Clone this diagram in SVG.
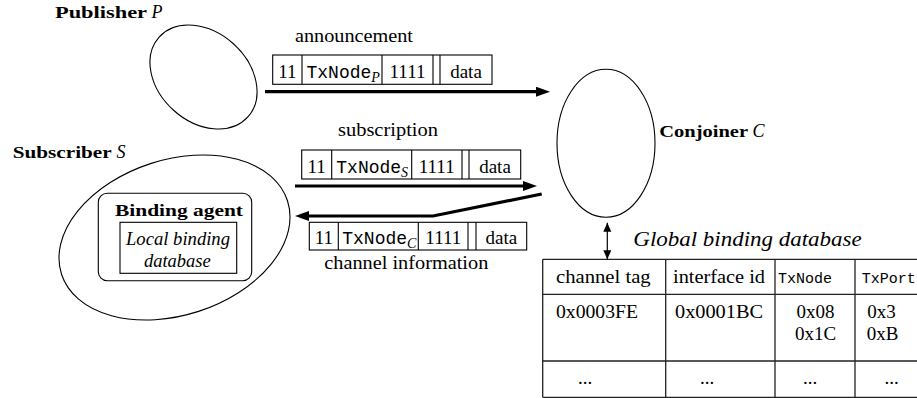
<svg xmlns="http://www.w3.org/2000/svg" width="917" height="398" viewBox="0 0 917 398">
  <style>
    .shape { fill: none; stroke: #000; stroke-width: 1.1; }
    .cell { fill: #fff; stroke: #000; stroke-width: 1.1; }
    .grid { fill: none; stroke: #222; stroke-width: 1.3; }
    .serif { font-family: "Liberation Serif", "DejaVu Serif", serif; font-size: 19px; fill: #000; }
    .bold { font-family: "Liberation Serif", "DejaVu Serif", serif; font-weight: bold; font-size: 16px; fill: #000; }
    .ital { font-family: "Liberation Serif", "DejaVu Serif", serif; font-style: italic; fill: #000; }
    .mono { font-family: "Liberation Mono", "DejaVu Sans Mono", monospace; fill: #000; }
    .mid { text-anchor: middle; }
    .thick { fill: none; stroke: #000; stroke-width: 3.2; stroke-linejoin: miter; }
    .thin { fill: none; stroke: #000; stroke-width: 1.2; }
  </style>
  <defs>
    <marker id="head" markerUnits="userSpaceOnUse" markerWidth="16" markerHeight="12" refX="4" refY="5" orient="auto">
      <path d="M0,0 L14,5 L0,10 z" fill="#000"/>
    </marker>
    <marker id="tip" markerUnits="userSpaceOnUse" markerWidth="10" markerHeight="10" refX="9" refY="4" orient="auto-start-reverse">
      <path d="M0,0 L9,4 L0,8 z" fill="#000"/>
    </marker>
  </defs>

  <!-- Publisher P -->
  <g id="publisher">
    <text class="bold" x="55" y="17.5" textLength="92" lengthAdjust="spacingAndGlyphs">Publisher</text>
    <text class="ital" x="151.5" y="17.5" font-size="18">P</text>
    <ellipse class="shape" cx="203.5" cy="77" rx="59.7" ry="44.7" transform="rotate(42 203.5 77)"/>
  </g>

  <!-- Subscriber S with its binding agent -->
  <g id="subscriber">
    <text class="bold" x="12.7" y="158.3" textLength="99" lengthAdjust="spacingAndGlyphs">Subscriber</text>
    <text class="ital" x="116.5" y="158.3" font-size="18">S</text>
    <ellipse class="shape" cx="174.5" cy="237.5" rx="118.8" ry="77.7" transform="rotate(-18 174.5 237.5)"/>
  </g>
  <g id="binding-agent">
    <rect class="shape" x="98.3" y="193.3" width="153.4" height="87.4" rx="9"/>
    <text class="bold" x="115" y="216" font-size="19" textLength="128" lengthAdjust="spacingAndGlyphs">Binding agent</text>
  </g>
  <g id="local-binding-database">
    <rect class="shape" x="120" y="222.3" width="116.7" height="51"/>
    <text class="ital" x="126" y="245" font-size="18" textLength="104" lengthAdjust="spacingAndGlyphs">Local binding</text>
    <text class="ital" x="144" y="267.3" font-size="18" textLength="66.7" lengthAdjust="spacingAndGlyphs">database</text>
  </g>

  <!-- Conjoiner C -->
  <g id="conjoiner">
    <ellipse class="shape" cx="606" cy="143.3" rx="49" ry="74"/>
    <text class="bold" x="659.3" y="136.7" textLength="88.7" lengthAdjust="spacingAndGlyphs">Conjoiner</text>
    <text class="ital" x="752.5" y="136.7" font-size="18">C</text>
  </g>

  <!-- Packets: 11 | TxNode | 1111 || data -->
  <g id="announcement">
    <text class="serif mid" x="354" y="41.7" textLength="118" lengthAdjust="spacingAndGlyphs">announcement</text>
    <g transform="translate(272.7 55)">
      <rect class="cell" x="0" y="0" width="219.3" height="29.3"/>
      <path class="shape" d="M29.3,0 V29.3 M109.3,0 V29.3 M160.3,0 V29.3 M167.3,0 V29.3"/>
      <text class="serif mid" x="14.65" y="22.5">11</text>
      <text class="mono mid" x="70.5" y="22.5" font-size="18">TxNode<tspan class="ital" font-size="14" dy="4">P</tspan></text>
      <text class="serif mid" x="134.8" y="22.5">1111</text>
      <text class="serif mid" x="193.3" y="22.5">data</text>
    </g>
  </g>

  <g id="subscription">
    <text class="serif mid" x="388" y="135.7" textLength="100" lengthAdjust="spacingAndGlyphs">subscription</text>
    <g transform="translate(301.7 150)">
      <rect class="cell" x="0" y="0" width="219" height="29"/>
      <path class="shape" d="M30,0 V29 M110,0 V29 M160.3,0 V29 M167.3,0 V29"/>
      <text class="serif mid" x="15" y="22.8">11</text>
      <text class="mono mid" x="70.5" y="22.8" font-size="18">TxNode<tspan class="ital" font-size="14" dy="4">S</tspan></text>
      <text class="serif mid" x="135" y="22.8">1111</text>
      <text class="serif mid" x="193.3" y="22.8">data</text>
    </g>
  </g>

  <g id="channel-information">
    <g transform="translate(309.3 222.3)">
      <rect class="cell" x="0" y="0" width="217.4" height="27.7"/>
      <path class="shape" d="M29,0 V27.7 M109,0 V27.7 M158.7,0 V27.7 M166.7,0 V27.7"/>
      <text class="serif mid" x="14.5" y="22.2">11</text>
      <text class="mono mid" x="70" y="22.2" font-size="18">TxNode<tspan class="ital" font-size="14" dy="4">C</tspan></text>
      <text class="serif mid" x="134" y="22.2">1111</text>
      <text class="serif mid" x="192" y="22.2">data</text>
    </g>
    <text class="serif" x="324.3" y="268.7" textLength="164" lengthAdjust="spacingAndGlyphs">channel information</text>
  </g>

  <!-- Global binding database table -->
  <g id="global-binding-database">
    <text class="ital" x="633.3" y="246" font-size="22" textLength="228.4" lengthAdjust="spacingAndGlyphs">Global binding database</text>
    <path class="grid" d="M542.7,259.3 H930 M542.7,294.3 H930 M542.7,361 H930 M542.7,397.3 H930 M542.7,259.3 V397.3 M665.7,259.3 V397.3 M775,259.3 V397.3 M855,259.3 V397.3"/>
    <text class="serif" x="556" y="282.7" textLength="94.7" lengthAdjust="spacingAndGlyphs">channel tag</text>
    <text class="serif" x="673" y="282.7" textLength="92" lengthAdjust="spacingAndGlyphs">interface id</text>
    <text class="mono" x="778" y="282.7" font-size="15">TxNode</text>
    <text class="mono" x="861.7" y="282.7" font-size="15">TxPort</text>
    <text class="serif" x="556" y="318.3" textLength="82" lengthAdjust="spacingAndGlyphs">0x0003FE</text>
    <text class="serif" x="675" y="318.3" textLength="88" lengthAdjust="spacingAndGlyphs">0x0001BC</text>
    <text class="serif mid" x="815.5" y="318.3">0x08</text>
    <text class="serif mid" x="815.5" y="340.3">0x1C</text>
    <text class="serif mid" x="881.5" y="318.3">0x3</text>
    <text class="serif mid" x="882.5" y="340.3">0xB</text>
    <text class="serif mid" x="585" y="384">...</text>
    <text class="serif mid" x="707" y="384">...</text>
    <text class="serif mid" x="810" y="384">...</text>
    <text class="serif mid" x="891.7" y="384">...</text>
  </g>

  <!-- Connectors -->
  <g id="connectors">
    <line class="thick" x1="265" y1="91.7" x2="540" y2="91.7" marker-end="url(#head)"/>
    <line class="thick" x1="295" y1="186" x2="527" y2="186" marker-end="url(#head)"/>
    <polyline class="thick" points="541.7,194 433,216 305,216" marker-end="url(#head)"/>
    <line class="thin" x1="607.3" y1="222.7" x2="607.3" y2="259.3" marker-start="url(#tip)" marker-end="url(#tip)"/>
  </g>
</svg>
